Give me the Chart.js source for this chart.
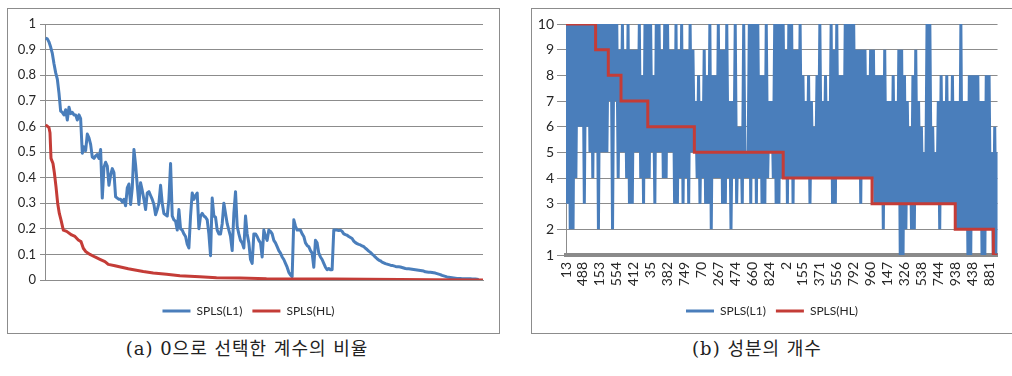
<!DOCTYPE html>
<html>
<head>
<meta charset="utf-8">
<script src="https://cdn.jsdelivr.net/npm/chart.js@4/dist/chart.umd.min.js"></script>
<style>
  html, body { margin: 0; padding: 0; background: #fff; }
  body { width: 1012px; height: 376px; position: relative; overflow: hidden; }
  .panel { position: absolute; border: 1px solid #8c8c8c; background: #fff; }
  #pa { left: 7px; top: 8px; width: 491px; height: 324px; }
  #pb { left: 531px; top: 8px; width: 481px; height: 324px; }
  .panel canvas { position: absolute; left: 0; top: 0; }
  .cap {
    position: absolute; top: 339px; line-height: 20px;
    font-family: "DejaVu Serif", "Noto Sans CJK KR", serif;
    font-size: 18px; letter-spacing: 1px; color: #222; white-space: nowrap;
    transform: translateX(-50%);
  }
</style>
</head>
<body>
<div class="panel" id="pa"><canvas id="ca" width="491" height="324"></canvas></div>
<div class="panel" id="pb"><canvas id="cb" width="481" height="324"></canvas></div>
<div class="cap" style="left:247px">(a) 0으로 선택한 계수의 비율</div>
<div class="cap" style="left:757px">(b) 성분의 개수</div>

<script>
// ---- (a) ratio of coefficients selected as zero ----
const seriesNames = ['SPLS(L1)', 'SPLS(HL)'];

// SPLS(L1): one value per sorted position
const l1Ratio = [
  0.945,0.942,0.93,0.91,0.885,0.845,0.81,0.785,0.73,0.66,0.655,0.645,0.665,0.625,0.675,0.65,0.655,0.645,0.645,0.625,
  0.645,0.63,0.495,0.52,0.505,0.57,0.555,0.53,0.48,0.475,0.485,0.49,0.475,0.51,0.32,0.44,0.46,0.445,0.37,0.41,
  0.435,0.42,0.325,0.32,0.315,0.315,0.305,0.315,0.29,0.36,0.375,0.295,0.36,0.51,0.45,0.37,0.295,0.38,0.35,0.315,
  0.275,0.34,0.345,0.33,0.315,0.295,0.255,0.275,0.30,0.37,0.30,0.26,0.255,0.25,0.315,0.455,0.25,0.235,0.23,0.195,
  0.275,0.20,0.195,0.18,0.17,0.14,0.125,0.25,0.34,0.315,0.33,0.34,0.20,0.25,0.26,0.25,0.245,0.235,0.18,0.095,
  0.32,0.25,0.245,0.195,0.18,0.18,0.22,0.30,0.26,0.22,0.195,0.17,0.115,0.26,0.345,0.21,0.18,0.155,0.145,0.125,
  0.25,0.18,0.145,0.08,0.065,0.18,0.18,0.17,0.155,0.145,0.09,0.195,0.17,0.155,0.195,0.19,0.18,0.155,0.145,0.13,
  0.115,0.105,0.09,0.08,0.065,0.05,0.03,0.02,0.013,0.235,0.21,0.195,0.195,0.195,0.18,0.17,0.145,0.135,0.13,0.115,
  0.105,0.05,0.155,0.145,0.105,0.09,0.08,0.065,0.05,0.04,0.045,0.04,0.04,0.195,0.195,0.195,0.193,0.195,0.19,0.18,
  0.177,0.175,0.17,0.166,0.162,0.152,0.146,0.142,0.139,0.137,0.133,0.13,0.124,0.119,0.113,0.108,0.101,0.096,0.089,0.083,
  0.078,0.075,0.07,0.067,0.064,0.062,0.06,0.058,0.057,0.055,0.053,0.052,0.052,0.051,0.049,0.047,0.045,0.044,0.044,0.043,
  0.042,0.041,0.04,0.039,0.038,0.037,0.036,0.035,0.032,0.031,0.03,0.03,0.029,0.028,0.027,0.025,0.023,0.021,0.018,0.016,
  0.014,0.012,0.011,0.01,0.009,0.008,0.007,0.006,0.006,0.006,0.005,0.005,0.005,0.005,0.005,0.005,0.004,0.004,0.004,0.003,0.002
];

// SPLS(HL): positions and values along the same sorted axis
const hlRatioPos = [0,2,2.6,3.2,4.4,5.2,6.2,7.2,8.2,9.2,10.6,12.6,15.6,17.6,19.6,21.2,22.6,24.2,26.6,29.6,
  32.6,35.6,37.6,41.6,45.6,49.6,53.6,58.6,64.6,72.6,80.6,92.6,102.6,116.6,132.6,172.6,192.6,232.6,262.6];
const hlRatio = [0.606,0.595,0.575,0.475,0.455,0.42,0.365,0.30,0.26,0.235,0.195,0.19,0.176,0.17,0.156,0.15,
  0.124,0.11,0.10,0.09,0.081,0.072,0.061,0.056,0.05,0.044,0.039,0.033,0.027,0.022,0.017,0.013,0.009,0.008,
  0.005,0.004,0.003,0.001,0];

// ---- (b) number of components ----
const compTickLabels = ['13','488','153','554','412','35','382','749','70','267','474','660','824',
  '2','155','371','556','792','960','147','326','538','744','938','438','881'];
const compTickEvery = 12;

const l1Comp = [
  10,3,10,2,10,2,10,4,10,6,10,6,10,3,10,6,10,5,10,4,10,5,10,2,
  10,5,10,5,10,5,10,7,10,2,10,7,10,4,9,5,10,5,9,4,10,3,9,3,
  9,5,9,5,10,4,8,3,10,4,10,4,10,5,8,3,10,5,10,5,9,4,10,4,
  10,5,9,5,9,3,10,3,9,4,10,3,9,4,9,3,10,5,9,5,7,4,8,3,
  7,4,9,3,8,3,10,2,8,4,8,4,10,4,9,3,9,3,10,4,7,2,7,4,
  10,3,6,4,6,3,10,4,5,4,10,3,10,4,10,3,10,4,8,3,8,3,10,4,
  7,5,7,4,10,3,10,3,10,4,10,4,9,3,10,4,10,3,9,4,9,4,10,4,
  8,4,7,4,8,3,7,4,6,4,8,4,10,4,7,4,8,4,7,4,10,3,9,3,
  10,4,8,4,8,4,10,4,10,4,10,4,10,4,9,4,9,3,9,4,9,4,8,4,
  9,4,9,3,8,3,8,3,8,2,9,3,7,3,7,3,8,3,7,3,9,1,9,1,
  8,2,7,3,6,2,8,2,9,3,7,3,6,3,5,3,10,3,10,3,6,3,5,3,
  7,2,8,3,7,3,8,3,7,3,8,3,7,2,7,2,10,2,7,2,7,1,8,1,
  8,2,8,2,8,2,7,1,7,1,8,2,8,2,5,1,6,1,5
];

// SPLS(HL): level changes (start position, level)
const hlCompStart = [0,21,30,39,58,91,154,217,276,303,306];
const hlCompLevel = [10,9,8,7,6,5,4,3,2,1,1];

// ---- styling ----
const BLUE = '#4a7ebb';
const RED = '#c43c37';
const GRID = '#8c8c8c';
const TXT = '#262626';

Chart.defaults.font.family = 'Lato, "Open Sans", sans-serif';
Chart.defaults.font.size = 13;
Chart.defaults.color = TXT;

function legendOpts() {
  return {
    position: 'bottom',
    labels: {
      usePointStyle: true, pointStyle: 'line', pointStyleWidth: 28, boxHeight: 3,
      font: { size: 12 }, color: TXT, padding: 10,
      sort: (a, b) => a.datasetIndex - b.datasetIndex
    }
  };
}

new Chart(document.getElementById('ca'), {
  type: 'line',
  data: {
    datasets: [
      { label: seriesNames[0], data: l1Ratio.map((v, i) => ({ x: i, y: v })),
        borderColor: BLUE, backgroundColor: BLUE, borderWidth: 3, pointRadius: 0,
        borderJoinStyle: 'round', order: 1 },
      { label: seriesNames[1], data: hlRatioPos.map((p, k) => ({ x: p, y: hlRatio[k] })),
        borderColor: RED, backgroundColor: RED, borderWidth: 3, pointRadius: 0,
        borderJoinStyle: 'round', order: 0 }
    ]
  },
  options: {
    responsive: false, animation: false, events: [],
    layout: { padding: { top: 15, right: 16, left: 6, bottom: 6 } },
    plugins: { legend: legendOpts(), tooltip: { enabled: false } },
    scales: {
      x: {
        type: 'linear', min: -0.4, max: 262.6,
        ticks: { display: false }, grid: { display: false },
        border: { color: GRID, width: 1 },
        afterFit: s => { s.height = 15; }
      },
      y: {
        min: 0, max: 1,
        ticks: { stepSize: 0.1, padding: 4, callback: v => String(Math.round(v * 10) / 10) },
        grid: { color: GRID, tickLength: 5 },
        border: { color: GRID },
        afterFit: s => { s.width = 31; }
      }
    }
  }
});

new Chart(document.getElementById('cb'), {
  type: 'line',
  data: {
    datasets: [
      { label: seriesNames[0], data: l1Comp.map((v, i) => ({ x: i, y: v })),
        borderColor: BLUE, backgroundColor: BLUE, borderWidth: 3, pointRadius: 0,
        borderJoinStyle: 'bevel', order: 1 },
      { label: seriesNames[1], data: hlCompStart.map((p, k) => ({ x: p, y: hlCompLevel[k] })),
        borderColor: RED, backgroundColor: RED, borderWidth: 3, pointRadius: 0,
        stepped: 'before', order: 0 }
    ]
  },
  options: {
    responsive: false, animation: false, events: [],
    layout: { padding: { top: 15, right: 6, left: 5, bottom: 6 } },
    plugins: { legend: legendOpts(), tooltip: { enabled: false } },
    scales: {
      x: {
        type: 'linear', min: 0, max: l1Comp.length - 1,
        afterBuildTicks: s => { s.ticks = compTickLabels.map((_, k) => ({ value: k * compTickEvery })); },
        ticks: {
          autoSkip: false, minRotation: 90, maxRotation: 90, padding: 7, font: { size: 14 },
          callback: v => compTickLabels[Math.round(v / compTickEvery)]
        },
        grid: { display: false, drawTicks: false },
        border: { color: '#8a8a8a', width: 4 },
        afterFit: s => { s.height = 40; }
      },
      y: {
        min: 1, max: 10,
        ticks: { stepSize: 1, padding: 3, font: { size: 14 } },
        grid: { color: GRID, tickLength: 9 },
        border: { color: GRID },
        afterFit: s => { s.width = 29; }
      }
    }
  }
});
</script>
</body>
</html>
